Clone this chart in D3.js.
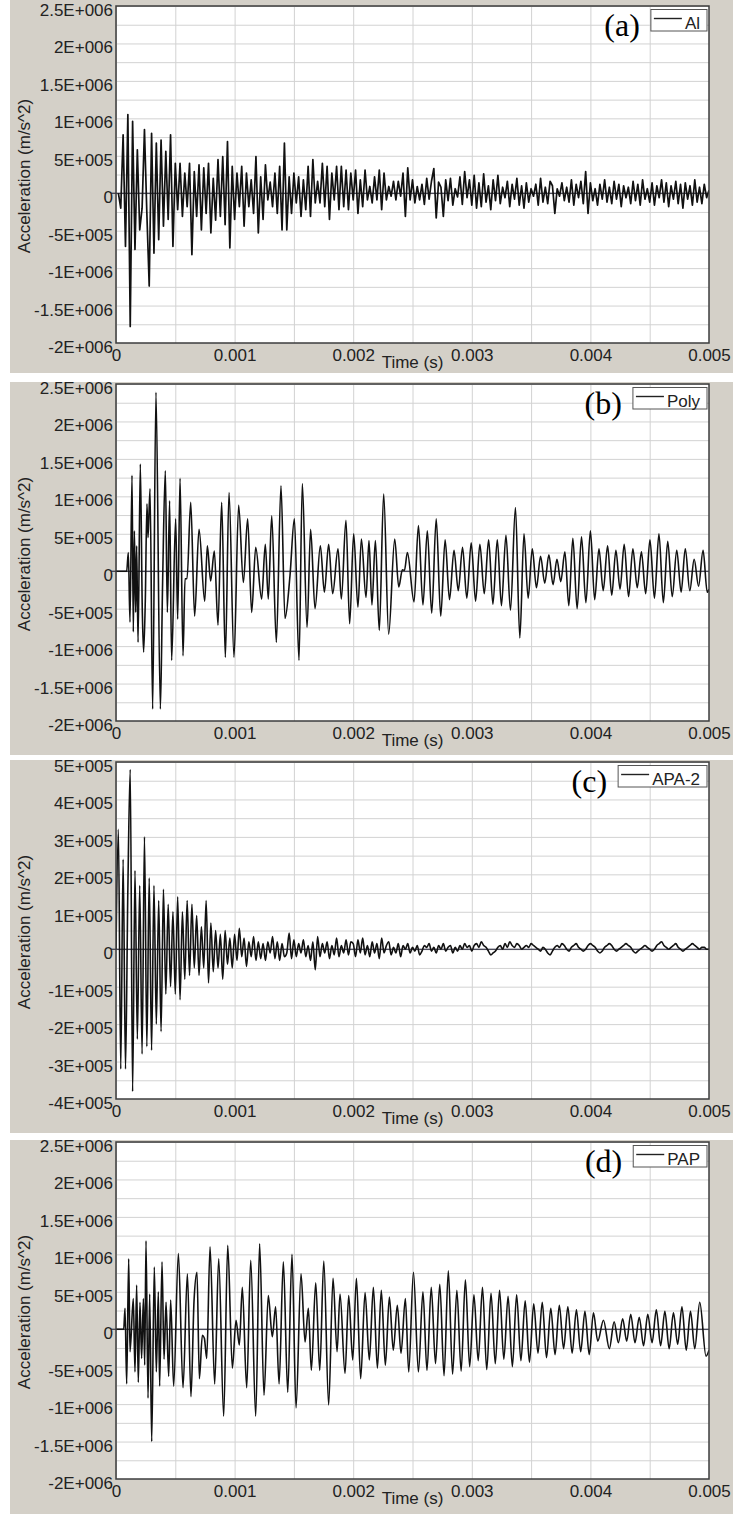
<!DOCTYPE html>
<html><head><meta charset="utf-8">
<script src="https://cdn.jsdelivr.net/npm/d3@7"></script>
<style>body{margin:0;background:#fff}svg{display:block}</style>
</head><body>
<svg id="chart" width="733" height="1514"></svg>
<script>
// ---------- axis ticks / labels ----------
const timeTicks = [0, 0.001, 0.002, 0.003, 0.004, 0.005];
const timeTickLabels = ["0", "0.001", "0.002", "0.003", "0.004", "0.005"];
const bigTicks = [2.5e6, 2e6, 1.5e6, 1e6, 5e5, 0, -5e5, -1e6, -1.5e6, -2e6];
const bigTickLabels = ["2.5E+006", "2E+006", "1.5E+006", "1E+006", "5E+005", "0", "-5E+005", "-1E+006", "-1.5E+006", "-2E+006"];
const smallTicks = [5e5, 4e5, 3e5, 2e5, 1e5, 0, -1e5, -2e5, -3e5, -4e5];
const smallTickLabels = ["5E+005", "4E+005", "3E+005", "2E+005", "1E+005", "0", "-1E+005", "-2E+005", "-3E+005", "-4E+005"];
const panelTags = ["(a)", "(b)", "(c)", "(d)"];
const seriesNames = ["Al", "Poly", "APA-2", "PAP"];
const xTitle = "Time (s)";
const yTitle = "Acceleration (m/s^2)";

// ---------- series (a) Al : sampled every 0.02 ms from 0.02 ms, units 1E5 m/s^2 ----------
const alStartMs = 0.02, alStepMs = 0.02;
const alAccel_1e5 = [
 0, -2.0, 7.8, -7.1, 10.5, -17.8, 9.6, -7.5, 5.8, -4.9,
 -2.0, 8.5, -2.6, -12.4, 8.0, -8.0, 6.7, -6.2, 7.1, -4.4,
 5.6, -3.5, 7.8, -7.1, 4.0, -2.2, 4.0, -3.1, 2.7, -1.8,
 4.0, -8.2, 2.9, -3.1, 3.8, -4.9, 3.4, -2.7, 4.0, -5.3,
 2.0, -3.6, 4.5, -3.1, 4.9, -4.2, 6.9, -7.3, 3.6, -3.5,
 2.7, -1.8, 3.6, -4.4, 2.7, -1.8, 1.8, -2.7, 4.9, -5.3,
 2.2, -3.5, 3.8, -0.9, 1.5, -1.8, 2.7, -2.7, 3.6, -4.9,
 6.7, -4.9, 2.2, -2.7, 2.7, -1.3, 2.2, -3.1, 1.8, -2.2,
 3.6, -3.1, 4.5, -1.3, 1.6, -1.3, 4.0, -1.8, 3.6, -3.5,
 2.7, -0.9, 3.6, -2.2, 3.6, -1.8, 3.1, -2.2, 2.7, -0.9,
 3.1, -2.7, 1.8, -1.8, 3.1, -0.9, 0.9, -1.3, 2.2, -0.9,
 3.1, -2.2, 2.7, -0.9, 0.9, -0.4, 1.6, -0.9, 1.6, -0.4,
 2.7, -3.1, 3.4, -0.9, 1.8, -1.3, 0.9, -0.9, 1.2, -1.5,
 2.0, -0.8, 1.6, 3.3, -3.3, 1.5, 0.8, -3.1, 1.8, -1.0,
 2.0, -1.6, 0.6, -0.5, 2.2, -1.5, 2.9, -0.6, 1.8, -1.6,
 2.4, -2.0, 1.4, -1.8, 2.6, -1.2, 1.0, -2.2, 1.8, -1.0,
 2.4, -1.4, 0.8, -0.6, 1.6, -1.8, 1.2, -0.8, 2.0, -1.6,
 1.0, -2.0, 1.4, -1.2, 0.6, -0.4, 1.2, -1.6, 2.0, -1.2,
 0.8, -1.4, 1.6, 1.0, -2.7, 0.6, -0.4, 1.4, -1.0, 0.8,
 -1.2, 1.8, -1.6, 1.2, -0.6, 1.6, -1.4, 2.9, -2.7, 1.4,
 -1.0, 0.6, -1.6, 1.2, -0.8, 1.8, -1.2, 0.8, -1.4, 1.6,
 -0.8, 1.2, -1.8, 1.0, -0.6, 0.8, -1.4, 1.6, -1.0, 1.2,
 -1.6, 1.8, -0.8, 0.6, -1.2, 1.4, -1.6, 1.0, -0.6, 1.8,
 -1.2, 1.4, -1.8, 1.0, -0.8, 1.6, -1.4, 1.2, -2.0, 1.4,
 -0.8, 1.0, -1.6, 1.8, -1.2, 0.8, -1.4, 1.2, -0.6, 0.4
];

// ---------- series (b) Poly : turning points [time ms, accel 1E5 m/s^2] ----------
const polyPeaks = [
 [0,0],[0.09,0],[0.104,2.5],[0.118,-6.8],[0.135,12.8],[0.146,-8.1],[0.155,5.4],[0.166,-5.5],[0.174,3.4],[0.186,-9.5],
 [0.205,14.3],[0.222,-5.5],[0.233,-10.8],[0.247,-4.0],[0.261,9.0],[0.270,4.5],[0.287,11.0],[0.309,-18.4],[0.337,23.9],[0.374,-18.4],
 [0.393,-1.5],[0.416,13.4],[0.433,-5.5],[0.452,9.4],[0.469,-11.9],[0.503,7.0],[0.520,-6.4],[0.540,12.4],[0.565,-11.3],[0.582,-1.0],
 [0.599,-1.0],[0.630,9.2],[0.663,-6.0],[0.700,5.6],[0.748,-4.0],[0.770,3.4],[0.798,-1.3],[0.829,2.7],[0.860,-7.2],[0.891,9.2],
 [0.922,-11.5],[0.953,10.5],[0.995,-11.5],[1.034,8.8],[1.074,-1.5],[1.110,7.0],[1.144,-5.5],[1.178,3.2],[1.228,-3.7],[1.259,3.6],
 [1.284,-3.7],[1.313,7.4],[1.352,-9.5],[1.391,11.4],[1.425,-6.3],[1.467,-0.6],[1.504,7.0],[1.543,-11.9],[1.571,11.7],[1.611,-7.5],
 [1.641,5.6],[1.678,-5.0],[1.723,3.4],[1.757,-2.8],[1.793,3.6],[1.827,-3.0],[1.872,3.0],[1.900,-3.7],[1.939,6.8],[1.970,-7.0],
 [2.004,5.0],[2.040,-4.8],[2.069,4.3],[2.108,-3.5],[2.133,4.1],[2.158,-4.5],[2.187,4.1],[2.220,-7.9],[2.257,10.3],[2.299,-8.4],
 [2.350,4.3],[2.384,-2.1],[2.415,0.2],[2.432,0.1],[2.457,2.5],[2.513,-4.1],[2.550,6.1],
 [2.588,-4.5],[2.625,5.4],[2.662,-5.6],[2.700,7.0],[2.738,-6.0],[2.775,4.2],[2.812,-3.8],[2.850,2.8],[2.886,-2.6],[2.922,3.2],
 [2.958,-3.6],[2.995,3.8],[3.032,-4.0],[3.068,3.6],[3.105,-3.0],[3.142,4.2],[3.178,-4.4],[3.215,4.2],[3.250,-4.6],[3.288,4.8],
 [3.326,-5.2],[3.368,8.5],[3.405,-8.9],[3.440,5.0],[3.475,-3.6],[3.510,3.0],[3.545,-2.2],[3.580,2.0],[3.615,-1.6],[3.650,2.2],
 [3.685,-1.8],[3.718,1.6],[3.750,-1.4],[3.785,2.6],[3.818,-4.6],[3.852,4.4],[3.888,-5.0],[3.925,4.6],[3.962,-4.2],[4.000,5.4],
 [4.036,-3.8],[4.072,3.0],[4.108,-2.6],[4.145,3.4],[4.180,-3.2],[4.215,2.8],[4.250,-2.4],[4.285,3.6],[4.322,-3.4],[4.358,3.0],
 [4.395,-2.2],[4.430,2.6],[4.466,-3.0],[4.502,4.2],[4.540,-3.6],[4.578,5.0],[4.615,-4.2],[4.652,4.0],[4.690,-3.4],[4.728,2.8],
 [4.765,-2.8],[4.800,3.0],[4.838,-2.6],[4.875,1.6],[4.912,-2.0],[4.950,2.8],[4.985,-2.8],[5.000,-2.4]
];

// ---------- series (c) APA-2 : sampled every 0.02 ms from 0 ms, units 1E4 m/s^2 ----------
const apaStartMs = 0, apaStepMs = 0.02;
const apaAccel_1e4 = [
 0, 32, -32, 24, -32, 16, 48, -38, 21, -24,
 17, -28, 30, -26, 19, -27, 17, -20, 13, -22,
 16, -12, 12, -10, 10, -12, 14, -13.5, 10, -8,
 13, -7, 12, -5, 9, -7, 6, -5, 13, -9,
 7, -6, 5, -5, 4, -8, 5, -4, 3, -5,
 4, -3, 5.6, -2, 3, -4.6, 2, -2, 3.4, -3,
 2, -2.5, 1.5, -3, 2, -1, 3.4, -2.5, 2, -3,
 1.5, -2, -1, 4.3, -2.5, 2.5, -2, 1.5, -1, 2.5,
 -2, 1, -3, 2, -5.5, 3.4, -2, 1.5, -1, 2,
 -2.5, 1, -1.5, 3, -2, 1, -1, 2.5, -1.5, 2,
 1.5, -2, 2.5, -1, 3, -1.5, 1, -2, 2, -1,
 1.5, -2.5, 3, -1, 1, 2, -1.5, 0.5, -1, 1.5,
 -2, 1, 0, 1.5, -1, 0.5, -0.5, 1, -1.5, -0.5,
 1, 0.5, 1.5, -0.5, 0.5, -1, 1, 0, 1.5, -0.5,
 0.5, 1, -1, 0.5, -0.5, 1, 0, 1.5, 0.5, 1,
 -0.5, 1, 1.5, 0.5, 2, 1, 0.5, -0.5, -1.5, -1,
 -0.5, 0.5, 1, 0, 1.5, 0.5, 2, 1, 0.5, 1.5,
 1, 0, 0.5, 1, 0.5, 1.5, 1, 0.5, 0, -0.5,
 0.5, 0, -1, -1.5, -0.5, 0.5, 1, 0.5, 1.5, 1,
 0, -0.5, 0.5, 1, 1.5, 0.5, 0, -0.5, 0, 1,
 1.5, 1, 0.5, -0.5, -1, -0.5, 0.5, 1, 1.5, 1,
 0, -0.5, 0, 0.5, 1, 1.5, 1, 0.5, -0.5, -1,
 -0.5, 0, 0.5, 1, 0.5, 0, -0.5, 0, 1, 1.5,
 2, 1, 0.5, 0, 0.5, 1, 1.5, 0.5, 0, -0.5,
 0, 0.5, 1, 1.5, 1, 0.5, 0, 0.5, 0.5, 0,
 0
];

// ---------- series (d) PAP : turning points [time ms, accel 1E5 m/s^2] ----------
const papPeaks = [
 [0,0],[0.065,0],[0.076,2.8],[0.090,-7.3],[0.107,9.4],[0.118,-3.0],[0.146,4.1],[0.160,-5.7],[0.174,5.9],[0.188,-7.1],
 [0.202,3.6],[0.216,-3.9],[0.231,4.1],[0.242,-4.8],[0.253,11.8],[0.270,-9.2],[0.284,4.7],[0.301,-15.0],[0.323,8.3],[0.340,-5.7],
 [0.357,5.0],[0.368,-7.6],[0.388,9.0],[0.405,-4.0],[0.422,3.6],[0.444,-6.3],[0.461,3.9],[0.486,-7.6],[0.526,10.1],[0.565,-7.8],
 [0.602,7.4],[0.632,-9.0],[0.658,3.8],[0.683,7.6],[0.703,-6.6],[0.728,-0.8],[0.745,-1.2],[0.765,-3.9],[0.793,11.0],[0.832,-7.3],
 [0.866,9.4],[0.908,-11.6],[0.942,11.2],[0.981,-5.2],[1.012,1.2],[1.040,-2.1],[1.065,5.6],[1.102,-7.8],[1.136,9.2],[1.178,-11.6],
 [1.211,11.4],[1.248,-8.8],[1.284,4.5],[1.318,-1.0],[1.346,3.0],[1.375,-7.3],[1.411,9.0],[1.448,-8.4],[1.484,10.0],[1.518,-10.5],
 [1.560,7.4],[1.594,-1.7],[1.622,2.8],[1.647,-5.5],[1.684,6.2],[1.718,-5.5],[1.752,9.1],[1.793,-10.1],[1.830,6.8],[1.864,-3.0],
 [1.889,4.7],[1.931,-5.9],[1.962,4.5],[1.996,-4.1],[2.027,6.8],[2.063,-6.6],[2.100,4.9],[2.136,-4.1],[2.170,5.6],[2.204,-5.2],
 [2.237,5.2],[2.271,-4.8],[2.305,4.3],[2.338,-2.8],[2.372,3.2],[2.403,-3.2],[2.440,4.1],[2.468,-5.7],[2.508,7.6],[2.550,-5.7],
 [2.588,5.0],[2.622,-5.5],[2.658,5.6],[2.694,-4.6],[2.730,6.0],[2.766,-6.2],[2.802,7.8],[2.838,-6.0],[2.874,5.2],[2.910,-5.6],
 [2.946,6.6],[2.982,-5.0],[3.018,4.6],[3.054,-4.2],[3.090,5.6],[3.126,-5.4],[3.162,4.8],[3.198,-4.6],[3.234,5.2],[3.270,-4.0],
 [3.306,4.4],[3.342,-5.0],[3.378,4.6],[3.414,-4.2],[3.450,3.8],[3.486,-4.4],[3.522,3.4],[3.558,-3.2],[3.594,3.6],[3.630,-3.8],
 [3.666,2.8],[3.702,-3.4],[3.738,3.2],[3.774,-2.6],[3.810,3.0],[3.846,-3.2],[3.882,2.6],[3.918,-3.0],[3.954,2.4],[3.990,-3.4],
 [4.026,2.2],[4.062,-1.6],[4.110,1.2],[4.160,-2.6],[4.200,1.0],[4.236,-1.8],[4.272,1.4],[4.306,-1.6],[4.340,2.0],[4.376,-1.8],
 [4.412,1.6],[4.448,-2.2],[4.484,2.0],[4.520,-1.8],[4.556,2.6],[4.592,-2.2],[4.628,2.4],[4.664,-2.6],[4.700,2.2],[4.736,-2.0],
 [4.772,3.0],[4.808,-2.8],[4.844,2.4],[4.880,-2.6],[4.922,3.6],[4.975,-3.6],[5.000,-2.8]
];

// ---------- build drawable series ----------
const alPoints = alAccel_1e5.map((v, i) => [(alStartMs + i * alStepMs) / 1000, v * 1e5]);
const polyPoints = polyPeaks.map(([t, v]) => [t / 1000, v * 1e5]);
const apaPoints = apaAccel_1e4.map((v, i) => [(apaStartMs + i * apaStepMs) / 1000, v * 1e4]);
const papPoints = papPeaks.map(([t, v]) => [t / 1000, v * 1e5]);

const FONT = "'Liberation Sans', Arial, sans-serif";
const svg = d3.select("#chart");
const plotL = 116, plotR = 709, plotH = 337;
const x = d3.scaleLinear().domain([0, 0.005]).range([plotL, plotR]);

const panels = [
  {top: 0,    bottom: 373,  plotTop: 6,    dom: [-2e6, 2.5e6], ticks: bigTicks,   labels: bigTickLabels,   grid: 2.5e5, pts: alPoints,   curve: d3.curveLinear,     sw: 1.7},
  {top: 382,  bottom: 755,  plotTop: 384,  dom: [-2e6, 2.5e6], ticks: bigTicks,   labels: bigTickLabels,   grid: 2.5e5, pts: polyPoints, curve: d3.curveMonotoneX, sw: 1.6},
  {top: 760,  bottom: 1133, plotTop: 762,  dom: [-4e5, 5e5],   ticks: smallTicks, labels: smallTickLabels, grid: 5e4,   pts: apaPoints,  curve: d3.curveMonotoneX, sw: 1.6},
  {top: 1140, bottom: 1514, plotTop: 1142, dom: [-2e6, 2.5e6], ticks: bigTicks,   labels: bigTickLabels,   grid: 2.5e5, pts: papPoints,  curve: d3.curveMonotoneX, sw: 1.6}
];

panels.forEach((p, k) => {
  const g = svg.append("g");
  const pb = p.plotTop + plotH;
  const y = d3.scaleLinear().domain(p.dom).range([pb, p.plotTop]);

  g.append("rect").attr("x", 10).attr("y", p.top).attr("width", 723).attr("height", p.bottom - p.top)
    .attr("fill", "#d4d0c8");
  g.append("rect").attr("x", plotL).attr("y", p.plotTop).attr("width", plotR - plotL).attr("height", plotH)
    .attr("fill", "#ffffff");

  // grid via axes
  const hv = d3.range(p.dom[0], p.dom[1] + p.grid / 2, p.grid);
  g.append("g").attr("transform", `translate(${plotL},0)`)
    .call(d3.axisLeft(y).tickValues(hv).tickSize(-(plotR - plotL)).tickFormat(""))
    .call(s => s.select(".domain").remove())
    .call(s => s.selectAll("line").attr("stroke", "#d2d2d2").attr("stroke-width", 1));
  const vv = d3.range(0, 0.005 + 0.00025, 0.0005);
  g.append("g").attr("transform", `translate(0,${pb})`)
    .call(d3.axisBottom(x).tickValues(vv).tickSize(-plotH).tickFormat(""))
    .call(s => s.select(".domain").remove())
    .call(s => s.selectAll("line").attr("stroke", "#d2d2d2").attr("stroke-width", 1));

  // zero line
  g.append("line").attr("x1", plotL - 5).attr("x2", plotR).attr("y1", y(0)).attr("y2", y(0))
    .attr("stroke", "#15152a").attr("stroke-width", 1);

  // signal
  const cid = "clip" + k;
  svg.append("clipPath").attr("id", cid).append("rect")
    .attr("x", plotL).attr("y", p.plotTop).attr("width", plotR - plotL).attr("height", plotH);
  const line = d3.line().x(d => x(d[0])).y(d => y(d[1])).curve(p.curve);
  g.append("path").datum(p.pts).attr("clip-path", `url(#${cid})`)
    .attr("d", line).attr("fill", "none").attr("stroke", "#111")
    .attr("stroke-width", p.sw).attr("stroke-linejoin", "round");

  // frame
  g.append("rect").attr("x", plotL).attr("y", p.plotTop).attr("width", plotR - plotL).attr("height", plotH)
    .attr("fill", "none").attr("stroke", "#3c3c3c").attr("stroke-width", 1.5);

  // y tick labels
  const ya = g.append("g").attr("transform", `translate(${plotL},0)`)
    .call(d3.axisLeft(y).tickValues(p.ticks).tickFormat((d, i) => p.labels[i]).tickSize(0).tickPadding(3));
  ya.select(".domain").remove();
  ya.attr("font-family", FONT).attr("font-size", 17).style("color", "#222");
  ya.selectAll("text").attr("dy", "0.56em");

  // x tick labels
  const xa = g.append("g").attr("transform", `translate(0,${pb})`)
    .call(d3.axisBottom(x).tickValues(timeTicks).tickFormat((d, i) => timeTickLabels[i]).tickSize(0).tickPadding(6));
  xa.select(".domain").remove();
  xa.attr("font-family", FONT).attr("font-size", 17).style("color", "#222");

  // titles
  g.append("text").attr("x", (plotL + plotR) / 2).attr("y", pb + 25).attr("text-anchor", "middle")
    .attr("font-family", FONT).attr("font-size", 17).attr("fill", "#222").text(xTitle);
  g.append("text").attr("transform", `translate(24,${p.plotTop + plotH / 2 + 1.5}) rotate(-90)`)
    .attr("text-anchor", "middle").attr("dominant-baseline", "central")
    .attr("font-family", FONT).attr("font-size", 17).attr("fill", "#222").text(yTitle);

  // legend
  const boxR = plotR - 2;
  const lt = g.append("text").attr("y", p.plotTop + 22.5).attr("font-family", FONT).attr("font-size", 17)
    .attr("fill", "#222").text(seriesNames[k]);
  const tw = lt.node().getComputedTextLength();
  const boxL = boxR - 7 - tw - 34;
  lt.attr("x", boxL + 34);
  g.insert("rect", () => lt.node()).attr("x", boxL).attr("y", p.plotTop + 3.5).attr("width", boxR - boxL).attr("height", 21.5)
    .attr("fill", "#fff").attr("stroke", "#555").attr("stroke-width", 1);
  g.append("line").attr("x1", boxL + 3).attr("x2", boxL + 31).attr("y1", p.plotTop + 12.5).attr("y2", p.plotTop + 12.5)
    .attr("stroke", "#222").attr("stroke-width", 1.4);
  g.append("text").attr("x", boxL - 11).attr("y", p.plotTop + 30).attr("text-anchor", "end")
    .attr("font-family", "'Liberation Serif', 'Times New Roman', serif").attr("font-size", 32).attr("fill", "#000")
    .text(panelTags[k]);
});
</script>
</body></html>
